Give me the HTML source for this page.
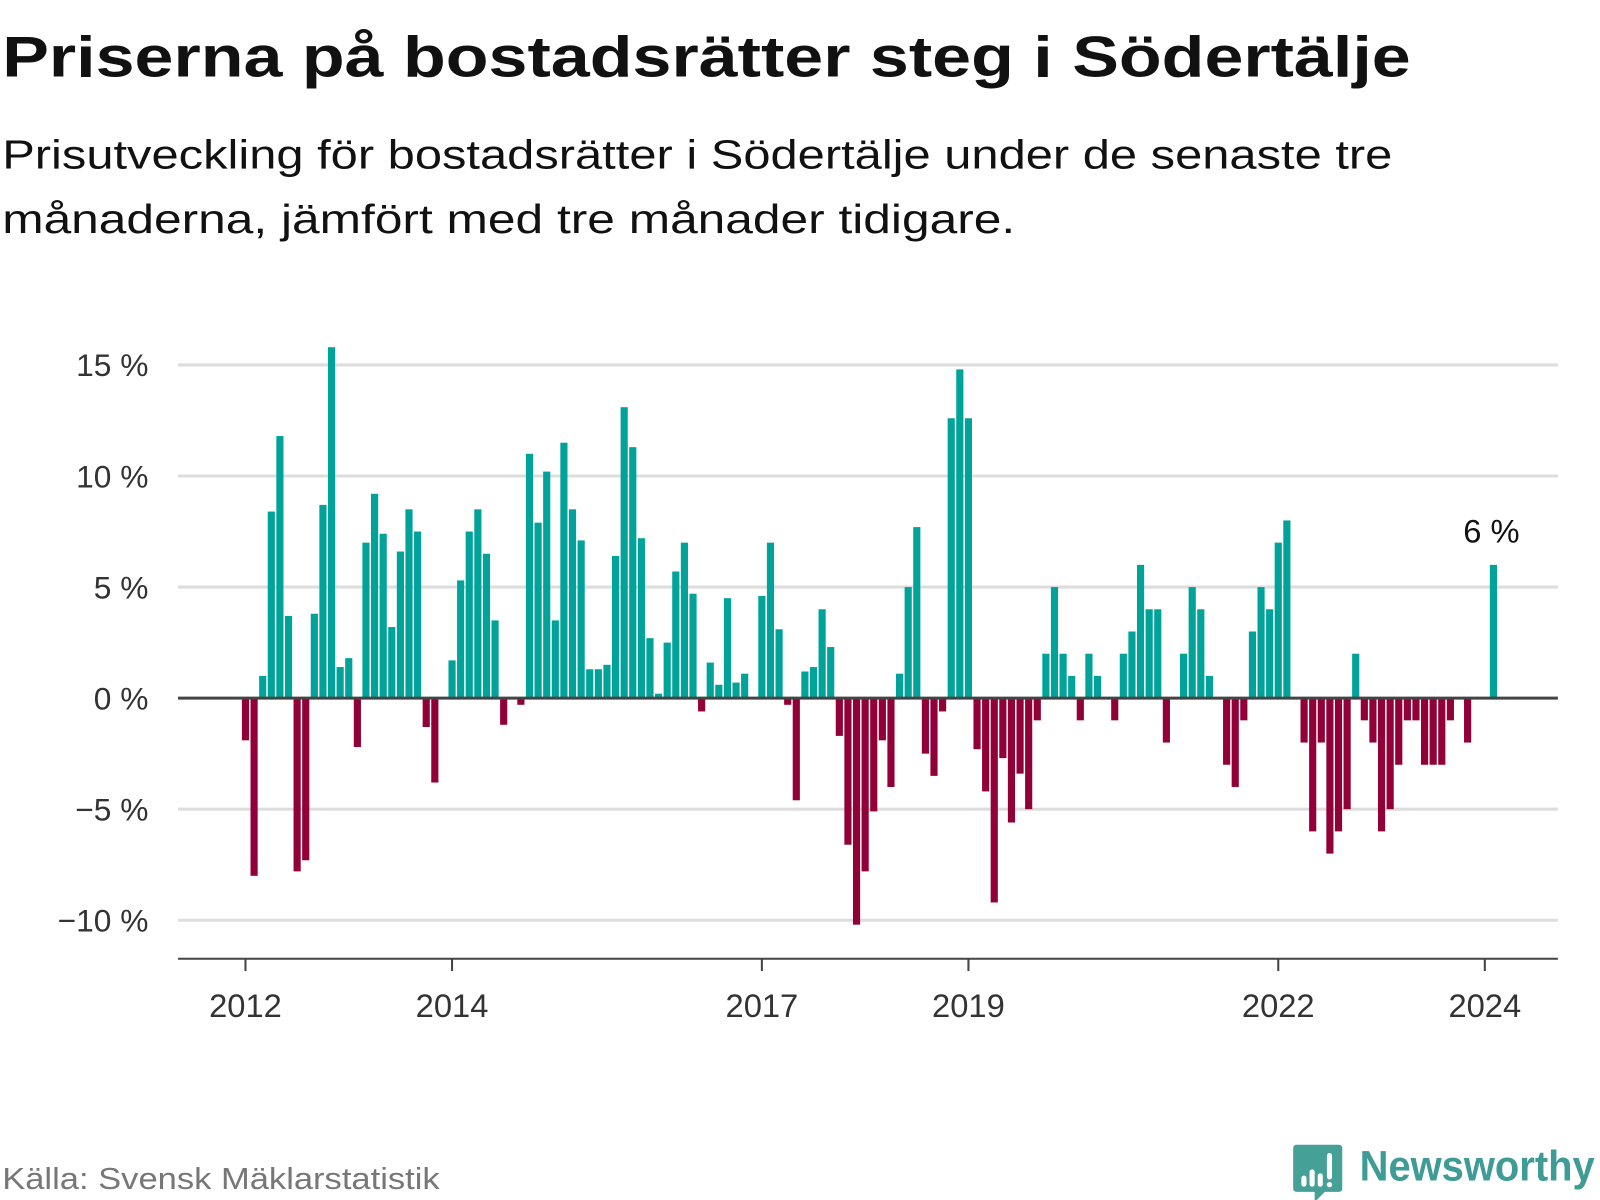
<!DOCTYPE html>
<html><head><meta charset="utf-8"><style>
html,body{margin:0;padding:0;background:#fff;}
svg{display:block;font-family:"Liberation Sans",sans-serif;}
</style></head><body>
<svg id="chart" width="1600" height="1200" viewBox="0 0 1565 1174" xmlns="http://www.w3.org/2000/svg">
<text x="2" y="75" font-size="56" font-weight="bold" fill="#111" textLength="1378" lengthAdjust="spacingAndGlyphs">Priserna på bostadsrätter steg i Södertälje</text>
<text x="2" y="165" font-size="40" fill="#111" textLength="1360" lengthAdjust="spacingAndGlyphs">Prisutveckling för bostadsrätter i Södertälje under de senaste tre</text>
<text x="2" y="228" font-size="40" fill="#111" textLength="991" lengthAdjust="spacingAndGlyphs">månaderna, jämfört med tre månader tidigare.</text>
<g id="grid"></g>
<g id="ylabels"></g>
<g id="bars"></g>
<g id="xaxis"></g>
<text x="2" y="1163" font-size="30" fill="#777" textLength="428" lengthAdjust="spacingAndGlyphs">Källa: Svensk Mäklarstatistik</text>
<g>
<path d="M1268 1120 h42 a3 3 0 0 1 3 3 v40 a3 3 0 0 1 -3 3 h-14 l-10 10 v-10 h-18 a3 3 0 0 1 -3 -3 v-40 a3 3 0 0 1 3 -3z" fill="#45a098"/>
<rect x="1273" y="1150" width="5" height="11" rx="2.5" fill="#fff"/>
<rect x="1281" y="1144" width="5" height="17" rx="2.5" fill="#fff"/>
<rect x="1289" y="1148" width="5" height="13" rx="2.5" fill="#fff"/>
<rect x="1298" y="1128" width="5" height="26" rx="2.5" fill="#fff"/>
<circle cx="1300.5" cy="1159" r="2.6" fill="#fff"/>
<text x="1330" y="1155" font-size="42" font-weight="bold" fill="#3f9b95" textLength="230" lengthAdjust="spacingAndGlyphs">Newsworthy</text>
</g>
</svg>
<script>
const values = [-1.9,-8,1.0,8.4,11.8,3.7,-7.8,-7.3,3.8,8.7,15.8,1.4,1.8,-2.2,7.0,9.2,7.4,3.2,6.6,8.5,7.5,-1.3,-3.8,0,1.7,5.3,7.5,8.5,6.5,3.5,-1.2,0,-0.3,11.0,7.9,10.2,3.5,11.5,8.5,7.1,1.3,1.3,1.5,6.4,13.1,11.3,7.2,2.7,0.2,2.5,5.7,7.0,4.7,-0.6,1.6,0.6,4.5,0.7,1.1,0,4.6,7.0,3.1,-0.3,-4.6,1.2,1.4,4.0,2.3,-1.7,-6.6,-10.2,-7.8,-5.1,-1.9,-4.0,1.1,5.0,7.7,-2.5,-3.5,-0.6,12.6,14.8,12.6,-2.3,-4.2,-9.2,-2.7,-5.6,-3.4,-5.0,-1.0,2.0,5.0,2.0,1.0,-1.0,2.0,1.0,0,-1.0,2.0,3.0,6.0,4.0,4.0,-2.0,0,2.0,5.0,4.0,1.0,0,-3.0,-4.0,-1.0,3.0,5.0,4.0,7.0,8.0,0,-2,-6,-2,-7,-6,-5,2,-1,-2,-6,-5,-3,-1,-1,-3,-3,-3,-1,0,-2,0,0,6];
const yTicks = [15,10,5,0,-5,-10];
const yTickLabels = ["15 %","10 %","5 %","0 %","−5 %","−10 %"];
const xTickYears = [2012,2014,2017,2019,2022,2024];
const xTickLabels = ["2012","2014","2017","2019","2022","2024"];
const lastLabel = "6 %";

const NS = "http://www.w3.org/2000/svg";
const y = v => 683 - v * 21.73;
const x = i => 240 + i * 8.42;
const xYear = yr => x((yr - 2012) * 12);
function mk(tag, attrs, parent){const e=document.createElementNS(NS,tag);for(const k in attrs)e.setAttribute(k,attrs[k]);parent.appendChild(e);return e;}
const grid=document.getElementById('grid'), yl=document.getElementById('ylabels'), bars=document.getElementById('bars'), xa=document.getElementById('xaxis');
yTicks.forEach((t,k)=>{
  if(t!==0){const l=mk('line',{x1:174,x2:1524,y1:y(t),y2:y(t),stroke:'#dddddd','stroke-width':3},grid);
  
  }
  const tx=mk('text',{x:145,y:y(t)+11,'font-size':31,fill:'#333','text-anchor':'end'},yl);
  tx.textContent=yTickLabels[k];
  
  
});
values.forEach((v,i)=>{
  if(v===0)return;
  const r=mk('rect',{x:x(i)-3.5,width:7,y:Math.min(y(v),y(0)),height:Math.abs(y(v)-y(0)),fill:v>0?'#00a39a':'#920038'},bars);
  
  
});
const z=mk('line',{x1:174,x2:1524,y1:y(0),y2:y(0),stroke:'#444','stroke-width':3},xa);


const base=mk('line',{x1:174,x2:1524,y1:938,y2:938,stroke:'#444','stroke-width':2},xa);


xTickYears.forEach((yr,k)=>{
  const tk=mk('line',{x1:xYear(yr),x2:xYear(yr),y1:938,y2:950,stroke:'#444','stroke-width':2},xa);
  
  
  const tx=mk('text',{x:xYear(yr),y:995,'font-size':32,fill:'#333','text-anchor':'middle'},xa);
  tx.textContent=xTickLabels[k];
  
  
});
const li=values.length-1;
const lab=mk('text',{x:x(li)-2,y:y(values[li])-22,'font-size':32,fill:'#111','text-anchor':'middle'},bars);
lab.textContent=lastLabel;


</script>
</body></html>
